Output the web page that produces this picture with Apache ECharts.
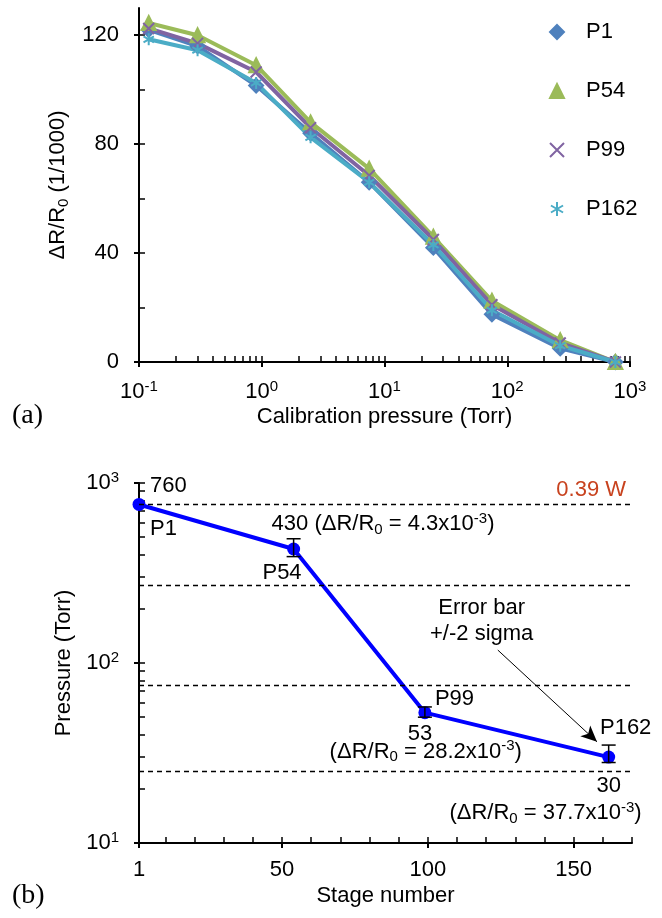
<!DOCTYPE html>
<html>
<head>
<meta charset="utf-8">
<script src="https://cdn.jsdelivr.net/npm/echarts@6/dist/echarts.min.js"></script>
<style>
  html, body { margin: 0; padding: 0; background: #fff; }
  #chart { width: 662px; height: 918px; }
</style>
</head>
<body>
<div id="chart"></div>
<script>
// (a) calibration curves
const calPressure = [0.12, 0.3, 0.9, 2.5, 7.5, 25, 75, 270, 760];
const p1Values   = [122, 116, 101.5, 84, 66, 42, 17.5, 5, 0];
const p54Values  = [124.5, 120, 109, 88, 71, 46, 22.5, 8, 0];
const p99Values  = [122.5, 117, 106.5, 86, 68.5, 45, 21, 7, 0];
const p162Values = [118.5, 114.5, 102.5, 82.5, 66, 43, 19, 6, 0];
const yTicksA = [0, 40, 80, 120];

// (b) pressure per stage
const stageNames = ['P1', 'P54', 'P99', 'P162'];
const stageNumbers = [1, 54, 99, 162];
const stagePressure = [760, 430, 53, 30];
const errLow  = [null, 390, 50, 28];
const errHigh = [null, 490, 57, 35];
const deltaR = [null, '4.3', '28.2', '37.7'];
const calibLevels = [760, 270, 75, 25];
const stageTicks = [1, 50, 100, 150];

const FONT = 'Liberation Sans';
const richText = {
  sub: { fontSize: 15, lineHeight: 12, verticalAlign: 'bottom', fontFamily: FONT, color: '#000' },
  sup: { fontSize: 15, lineHeight: 12, verticalAlign: 'top', fontFamily: FONT, color: '#000' }
};

// minor ticks of a log axis, in log10 space
function logMinor(lo, hi) {
  const out = [];
  for (let k = lo; k < hi; k++) {
    for (let m = 1; m <= 9; m++) out.push(k + Math.log10(m));
  }
  out.push(hi);
  return out;
}
function range(a, b, step) {
  const out = [];
  for (let v = a; v <= b; v += step) out.push(v);
  return out;
}
const powLabel = v => '10{sup|' + Math.round(Math.log10(v)) + '}';
const drText = i => '(ΔR/R{sub|0} = ' + deltaR[i] + 'x10{sup|-3})';

const axisLine = { show: true, onZero: false, lineStyle: { color: '#000', width: 2 } };
const hiddenLine = { show: false, onZero: false };
const majorTick = { show: true, inside: false, length: 5, lineStyle: { color: '#000', width: 2 } };
const minorTick = { show: true, inside: true, length: 6, lineStyle: { color: '#000', width: 1.5 } };
const labelBase = { color: '#000', fontSize: 22, fontFamily: FONT, lineHeight: 26, rich: richText };

const seriesA = [
  { name: 'P1', data: p1Values, color: '#4F81BD', symbol: 'diamond', size: 14 },
  { name: 'P54', data: p54Values, color: '#9BBB59', symbol: 'triangle', size: 14 },
  { name: 'P99', data: p99Values, color: '#8064A2', symbol: 'path://M0,0L10,10M10,0L0,10', size: 11 },
  { name: 'P162', data: p162Values, color: '#4BACC6', symbol: 'path://M5,0L5,10M0.67,2.5L9.33,7.5M0.67,7.5L9.33,2.5', size: 12 }
];

// text notes around the points of panel (b): [point, text, offset, align]
const notes = [
  [0, String(stagePressure[0]), [11, -19], 'left'],
  [0, stageNames[0], [11, 24], 'left'],
  [1, stagePressure[1] + ' ' + drText(1), [-22, -25], 'left'],
  [1, stageNames[1], [8, 24], 'right'],
  [2, stageNames[2], [10, -14], 'left'],
  [2, String(stagePressure[2]), [-5, 21], 'center'],
  [2, drText(2), [97, 39], 'right'],
  [3, stageNames[3], [17, -29], 'center'],
  [3, String(stagePressure[3]), [0, 29], 'center'],
  [3, drText(3), [33, 56], 'right'],
  [3, 'Error bar\n+/-2 sigma', [-127, -136], 'center']
];

const chart = echarts.init(document.getElementById('chart'));
const option = {
  animation: false,
  textStyle: { fontFamily: FONT, color: '#000' },
  grid: [
    { left: 139, right: 32, top: 8, height: 354 },
    { left: 139, right: 30, top: 483, height: 360 }
  ],
  legend: {
    orient: 'vertical',
    left: 544,
    top: 16,
    itemWidth: 14,
    itemHeight: 14,
    itemGap: 37,
    textStyle: { fontSize: 22, color: '#000', fontFamily: FONT, padding: [0, 0, 0, 17] },
    data: seriesA.map(s => ({ name: s.name, icon: s.symbol }))
  },
  xAxis: [
    {
      type: 'log', gridIndex: 0, logBase: 10, min: 0.1, max: 1000, position: 'bottom',
      axisLine: axisLine, axisTick: majorTick, splitLine: { show: false },
      axisLabel: Object.assign({}, labelBase, { margin: 17, formatter: powLabel }),
      name: 'Calibration pressure (Torr)', nameLocation: 'middle', nameGap: 43,
      nameTextStyle: { fontSize: 22, color: '#000', fontFamily: FONT }
    },
    {
      type: 'value', gridIndex: 0, min: -1, max: 3, position: 'bottom',
      axisLine: hiddenLine, axisLabel: { show: false }, splitLine: { show: false },
      axisTick: Object.assign({}, minorTick, { customValues: logMinor(-1, 3) })
    },
    {
      type: 'value', gridIndex: 1, min: 1, max: 170, position: 'bottom',
      axisLine: axisLine, splitLine: { show: false },
      axisTick: Object.assign({}, majorTick, { customValues: stageTicks }),
      axisLabel: Object.assign({}, labelBase, { margin: 14, customValues: stageTicks }),
      name: 'Stage number', nameLocation: 'middle', nameGap: 42,
      nameTextStyle: { fontSize: 22, color: '#000', fontFamily: FONT }
    },
    {
      type: 'value', gridIndex: 1, min: 1, max: 170, position: 'bottom',
      axisLine: hiddenLine, axisLabel: { show: false }, splitLine: { show: false },
      axisTick: Object.assign({}, minorTick, { customValues: [1].concat(range(10, 170, 10)) })
    }
  ],
  yAxis: [
    {
      type: 'value', gridIndex: 0, min: 0, max: 130, position: 'left',
      axisLine: axisLine, splitLine: { show: false },
      axisTick: Object.assign({}, majorTick, { customValues: yTicksA }),
      axisLabel: Object.assign({}, labelBase, { margin: 20, customValues: yTicksA }),
      name: '{t|ΔR/R}{sub|0}{t| (1/1000)}', nameLocation: 'middle', nameGap: 61,
      nameTextStyle: {
        fontSize: 22, color: '#000', fontFamily: FONT, lineHeight: 26,
        rich: Object.assign({ t: { fontSize: 22, fontFamily: FONT, color: '#000' } }, richText)
      }
    },
    {
      type: 'value', gridIndex: 0, min: 0, max: 130, position: 'left',
      axisLine: hiddenLine, axisLabel: { show: false }, splitLine: { show: false },
      axisTick: Object.assign({}, minorTick, { customValues: range(0, 120, 20) })
    },
    {
      type: 'log', gridIndex: 1, logBase: 10, min: 10, max: 1000, position: 'left',
      axisLine: axisLine, axisTick: majorTick, splitLine: { show: false },
      axisLabel: Object.assign({}, labelBase, { margin: 20, formatter: powLabel }),
      name: 'Pressure (Torr)', nameLocation: 'middle', nameGap: 64,
      nameTextStyle: { fontSize: 22, color: '#000', fontFamily: FONT }
    },
    {
      type: 'value', gridIndex: 1, min: 1, max: 3, position: 'left',
      axisLine: hiddenLine, axisLabel: { show: false }, splitLine: { show: false },
      axisTick: Object.assign({}, minorTick, { customValues: logMinor(1, 3) })
    }
  ],
  graphic: [
    { type: 'text', left: 12, top: 402, style: { text: '(a)', font: '28px "Liberation Serif"', fill: '#000' } },
    { type: 'text', left: 12, top: 882, style: { text: '(b)', font: '28px "Liberation Serif"', fill: '#000' } }
  ],
  series: seriesA.map(s => ({
    name: s.name,
    type: 'line',
    xAxisIndex: 0,
    yAxisIndex: 0,
    data: calPressure.map((p, i) => [p, s.data[i]]),
    symbol: s.symbol,
    symbolSize: s.size,
    symbolKeepAspect: true,
    lineStyle: { color: s.color, width: 4 },
    itemStyle: { color: s.color, borderColor: s.color, borderWidth: 2 }
  })).concat([
    {
      name: 'stages',
      type: 'line',
      xAxisIndex: 2,
      yAxisIndex: 2,
      data: stageNumbers.map((n, i) => [n, stagePressure[i]]),
      symbol: 'circle',
      symbolSize: 13,
      lineStyle: { color: '#0000FF', width: 4 },
      itemStyle: { color: '#0000FF' },
      markLine: {
        silent: true,
        symbol: 'none',
        lineStyle: { color: '#000', width: 1.3, type: [5, 4] },
        label: { show: false },
        data: calibLevels.map((v, i) => i === 0 ? {
          yAxis: v,
          label: {
            show: true, position: 'insideEndTop', formatter: '0.39 W',
            color: '#C8421E', fontSize: 22, fontFamily: FONT, distance: [6, 4]
          }
        } : { yAxis: v })
      }
    },
    {
      name: 'errors',
      type: 'custom',
      xAxisIndex: 2,
      yAxisIndex: 2,
      z: 5,
      data: stageNumbers.map((n, i) => [n, errLow[i], errHigh[i]]).filter(d => d[1] != null),
      renderItem: function (params, api) {
        const lo = api.coord([api.value(0), api.value(1)]);
        const hi = api.coord([api.value(0), api.value(2)]);
        const w = 7;
        const st = { stroke: '#000', lineWidth: 1.5 };
        return {
          type: 'group',
          children: [
            { type: 'line', shape: { x1: lo[0], y1: lo[1], x2: hi[0], y2: hi[1] }, style: st },
            { type: 'line', shape: { x1: lo[0] - w, y1: lo[1], x2: lo[0] + w, y2: lo[1] }, style: st },
            { type: 'line', shape: { x1: hi[0] - w, y1: hi[1], x2: hi[0] + w, y2: hi[1] }, style: st }
          ]
        };
      }
    },
    {
      name: 'notes',
      type: 'scatter',
      xAxisIndex: 2,
      yAxisIndex: 2,
      symbolSize: 1,
      itemStyle: { color: 'rgba(0,0,0,0)', opacity: 1 },
      z: 6,
      data: notes.map(n => ({
        value: [stageNumbers[n[0]], stagePressure[n[0]]],
        label: {
          show: true, position: 'inside', offset: n[2], align: n[3], verticalAlign: 'middle',
          formatter: n[1], color: '#000', fontSize: 22, fontFamily: FONT, lineHeight: 26, rich: richText
        }
      })),
      markLine: {
        silent: true,
        symbol: ['none', 'arrow'],
        symbolSize: [11, 16],
        lineStyle: { color: '#000', width: 1, type: 'solid' },
        label: { show: false },
        data: [[{ coord: [124, 118] }, { coord: [158, 36.5] }]]
      }
    }
  ])
};
chart.setOption(option);
</script>
</body>
</html>
